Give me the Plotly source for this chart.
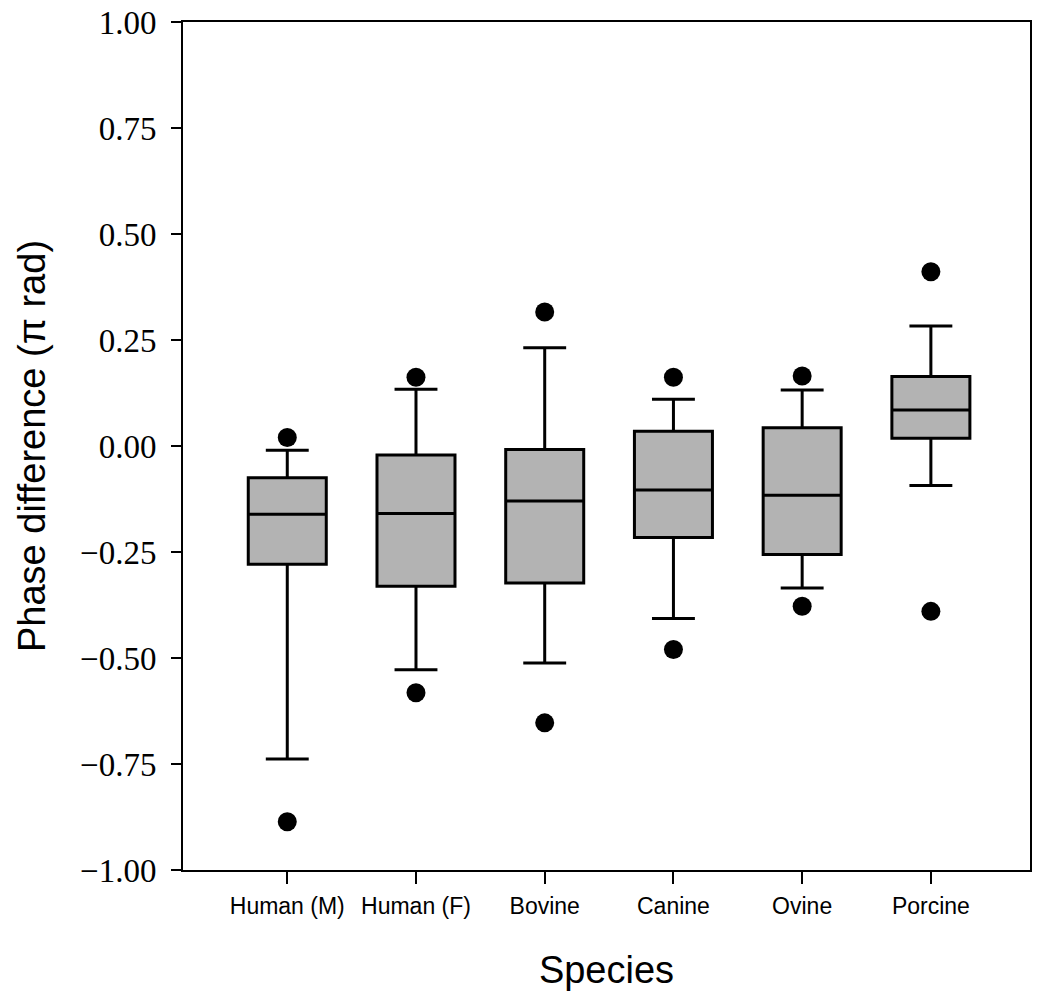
import plotly.graph_objects as go

species = ["Human (M)", "Human (F)", "Bovine", "Canine", "Ovine", "Porcine"]
q1 = [-0.279, -0.331, -0.323, -0.216, -0.256, 0.018]
median = [-0.161, -0.159, -0.130, -0.104, -0.116, 0.085]
q3 = [-0.075, -0.021, -0.008, 0.035, 0.043, 0.164]
lower_whisker = [-0.738, -0.528, -0.512, -0.407, -0.335, -0.093]
upper_whisker = [-0.010, 0.134, 0.232, 0.110, 0.132, 0.283]
outlier_high = [0.020, 0.162, 0.316, 0.162, 0.165, 0.411]
outlier_low = [-0.886, -0.582, -0.653, -0.480, -0.378, -0.390]
y_ticks = [-1.00, -0.75, -0.50, -0.25, 0.00, 0.25, 0.50, 0.75, 1.00]

fig = go.Figure()
fig.add_trace(go.Box(
    x=species, q1=q1, median=median, q3=q3,
    lowerfence=lower_whisker, upperfence=upper_whisker,
    fillcolor="#b3b3b3", line=dict(color="black", width=3),
    whiskerwidth=0.55, boxpoints=False, showlegend=False,
))
fig.add_trace(go.Scatter(
    x=species + species, y=outlier_high + outlier_low, mode="markers",
    marker=dict(color="black", size=19), showlegend=False,
))

fig.update_layout(
    width=1050, height=996,
    margin=dict(l=183, r=20, t=22, b=126),
    plot_bgcolor="white", paper_bgcolor="white",
    boxgap=0.394, boxgroupgap=0,
)
fig.update_xaxes(
    type="category", categoryorder="array", categoryarray=species,
    range=[-0.81, 5.77], automargin=False,
    showline=True, linecolor="black", linewidth=2, mirror=True,
    ticks="outside", ticklen=12, tickwidth=2, tickcolor="black",
    ticklabelstandoff=2,
    showgrid=False, zeroline=False,
    tickfont=dict(family="Liberation Sans, Arial", size=23, color="black"),
    title=dict(text="Species", font=dict(family="Liberation Sans, Arial", size=38, color="black"), standoff=39),
)
fig.update_yaxes(
    range=[-1.0, 1.0], automargin=False,
    tickvals=y_ticks, ticktext=[("\u2212" if v < 0 else "") + f"{abs(v):.2f}" for v in y_ticks],
    showline=True, linecolor="black", linewidth=2, mirror=True,
    ticks="outside", ticklen=10, tickwidth=2, tickcolor="black",
    ticklabelstandoff=8,
    showgrid=False, zeroline=False,
    tickfont=dict(family="Liberation Serif, Times New Roman", size=33, color="black"),
    title=dict(text="Phase difference (\u03c0 rad)", font=dict(family="Liberation Sans, Arial", size=38, color="black"), standoff=23),
)

fig.write_html(
    "out.html",
    config={"displayModeBar": False},
    post_script="document.body.style.margin='0';document.body.style.overflow='hidden';",
)
